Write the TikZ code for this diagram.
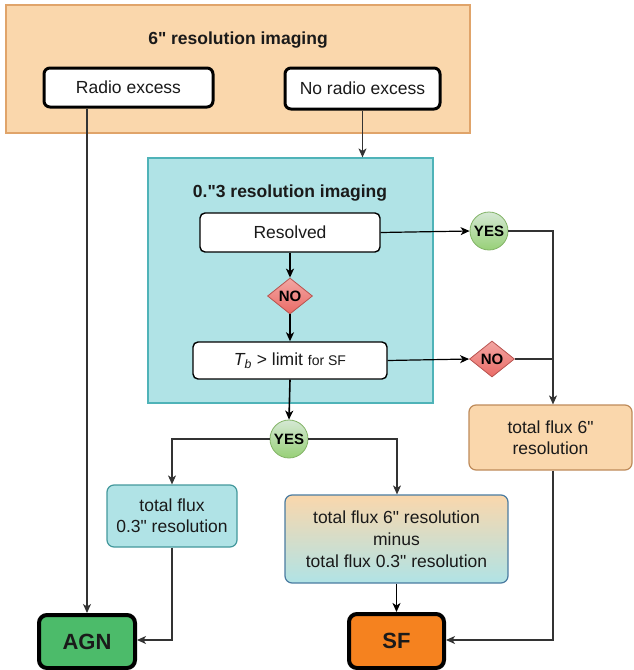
\documentclass[tikz,border=0pt]{standalone}
\usepackage{fontspec}
\setmainfont{Liberation Sans}[Ligatures=TeXOff]
\usetikzlibrary{shapes.geometric,arrows.meta,calc}
\definecolor{orfill}{HTML}{FAD7AC}
\definecolor{ordraw}{HTML}{E0A46A}
\definecolor{tefill}{HTML}{B0E3E6}
\definecolor{tedraw}{HTML}{4FB3B8}
\definecolor{agnfill}{HTML}{4CBB6A}
\definecolor{sffill}{HTML}{F5821F}
\definecolor{yestop}{HTML}{D5E8D4}
\definecolor{yesbot}{HTML}{97D077}
\definecolor{yesdraw}{HTML}{82B366}
\definecolor{notop}{HTML}{F8CECC}
\definecolor{nobot}{HTML}{EA6B66}
\definecolor{nodraw}{HTML}{B85450}
\definecolor{txt}{HTML}{1A1A1A}
\definecolor{ln}{HTML}{333333}
\definecolor{middraw}{HTML}{4A7BA0}
\tikzset{
  base/.style={inner sep=0pt, text=txt, font=\fontsize{17.5}{21}\selectfont, align=center},
  region/.style={base, draw, line width=1.2pt, rectangle},
  whitebox/.style={base, draw=black, fill=white, rounded corners=5pt, line width=1.4pt},
  thickbox/.style={base, draw=black, fill=white, rounded corners=6pt, line width=3pt},
  resbox/.style={base, rounded corners=7pt, line width=1.2pt},
  endbox/.style={base, draw=black, rounded corners=8pt, line width=4pt, font=\fontsize{22}{26}\selectfont\bfseries},
  yesnode/.style={base, circle, draw=yesdraw, top color=yestop, bottom color=yesbot, line width=0.8pt, minimum size=38pt, text=black, font=\fontsize{15}{17}\selectfont\bfseries},
  nonode/.style={base, diamond, draw=nodraw, top color=notop!60!nobot, bottom color=nobot, line width=0.8pt, minimum width=45pt, minimum height=36pt, text=black, font=\fontsize{15}{17}\selectfont\bfseries, aspect=1.25},
  conn/.style={draw=ln, line width=1.2pt},
  arr/.style={conn, -{Stealth[length=9pt,width=8pt,inset=2.5pt]}},
  titletext/.style={base, font=\fontsize{17.5}{21}\selectfont\bfseries}
}
\begin{document}
\begin{tikzpicture}[x=1pt,y=-1pt]
\useasboundingbox (0,0) rectangle (633,670);
% regions
\node[region, draw=ordraw, fill=orfill, minimum width=464pt, minimum height=128pt] (top) at (238,69) {};
\node[titletext] (toptitle) at (238,40) {6" resolution imaging};
\node[thickbox, minimum width=169pt, minimum height=39pt] (radio) at (128.5,87.5) {Radio excess};
\node[thickbox, minimum width=155pt, minimum height=41pt] (norad) at (362.5,88.5) {No radio excess};
\node[region, draw=tedraw, fill=tefill, minimum width=285pt, minimum height=245pt] (teal) at (290.5,280.5) {};
\node[titletext] (tealtitle) at (290,193) {0."3 resolution imaging};
\node[whitebox, minimum width=180pt, minimum height=39pt] (resolved) at (290,232.5) {Resolved};
\node[nonode] (no1) at (290,296) {NO};
\node[whitebox, minimum width=194pt, minimum height=37pt] (tb) at (290,360.5) {\textit{T\textsubscript{b}} > limit {\fontsize{14}{17}\selectfont for SF}};
\node[yesnode] (yes1) at (489,231) {YES};
\node[nonode] (no2) at (492,359) {NO};
\node[resbox, draw=ordraw!85!black, fill=orfill, minimum width=163pt, minimum height=65pt] (tf6) at (550.5,437.5) {total flux 6"\\resolution};
\node[yesnode] (yes2) at (289,439) {YES};
\node[resbox, draw=tedraw!85!black, fill=tefill, minimum width=130pt, minimum height=62pt] (tf03) at (172,516) {total flux\\0.3" resolution};
\node[resbox, draw=middraw, top color=orfill, bottom color=tefill, minimum width=223pt, minimum height=88pt, font=\fontsize{17.5}{22}\selectfont] (mid) at (396.5,539) {total flux 6" resolution\\minus\\total flux 0.3" resolution};
\node[endbox, fill=agnfill, minimum width=96pt, minimum height=53pt] (agn) at (87,641.5) {AGN};
\node[endbox, fill=sffill, minimum width=95pt, minimum height=54pt] (sf) at (396.5,641) {SF};
% helper coordinates
\coordinate (cr1) at (553,231);
\coordinate (cr2) at (553,359);
\coordinate (cl) at (172,439);
\coordinate (cm) at (397,439);
\coordinate (ca) at (172,640);
\coordinate (cs) at (553,640);
% connectors
\draw[arr] (agn.north |- radio.south) -- (agn.north);
\draw[arr] (norad.south) -- (norad.south |- teal.north);
\draw[arr, line width=1.6pt, draw=black] (resolved.south) -- (no1.north);
\draw[arr, line width=1.6pt, draw=black] (no1.south) -- (tb.north);
\draw[arr, draw=black] (resolved.east) -- (yes1.west);
\draw[arr] (yes1.east) -- (cr1) -- (cr1 |- tf6.north);
\draw[arr, draw=black] (tb.east) -- (no2.west);
\draw[conn] (no2.east) -- (cr2);
\draw[arr, line width=1.6pt, draw=black] (tb.south) -- (yes2.north);
\draw[arr] (yes2.west) -- (cl) -- (tf03.north);
\draw[arr] (yes2.east) -- (cm) -- (cm |- mid.north);
\draw[arr] (tf03.south) -- (ca) -- (ca -| agn.east);
\draw[arr, line width=1.6pt, draw=black] (mid.south) -- (sf.north);
\draw[arr] (cs |- tf6.south) -- (cs) -- (cs -| sf.east);
\end{tikzpicture}
\end{document}
